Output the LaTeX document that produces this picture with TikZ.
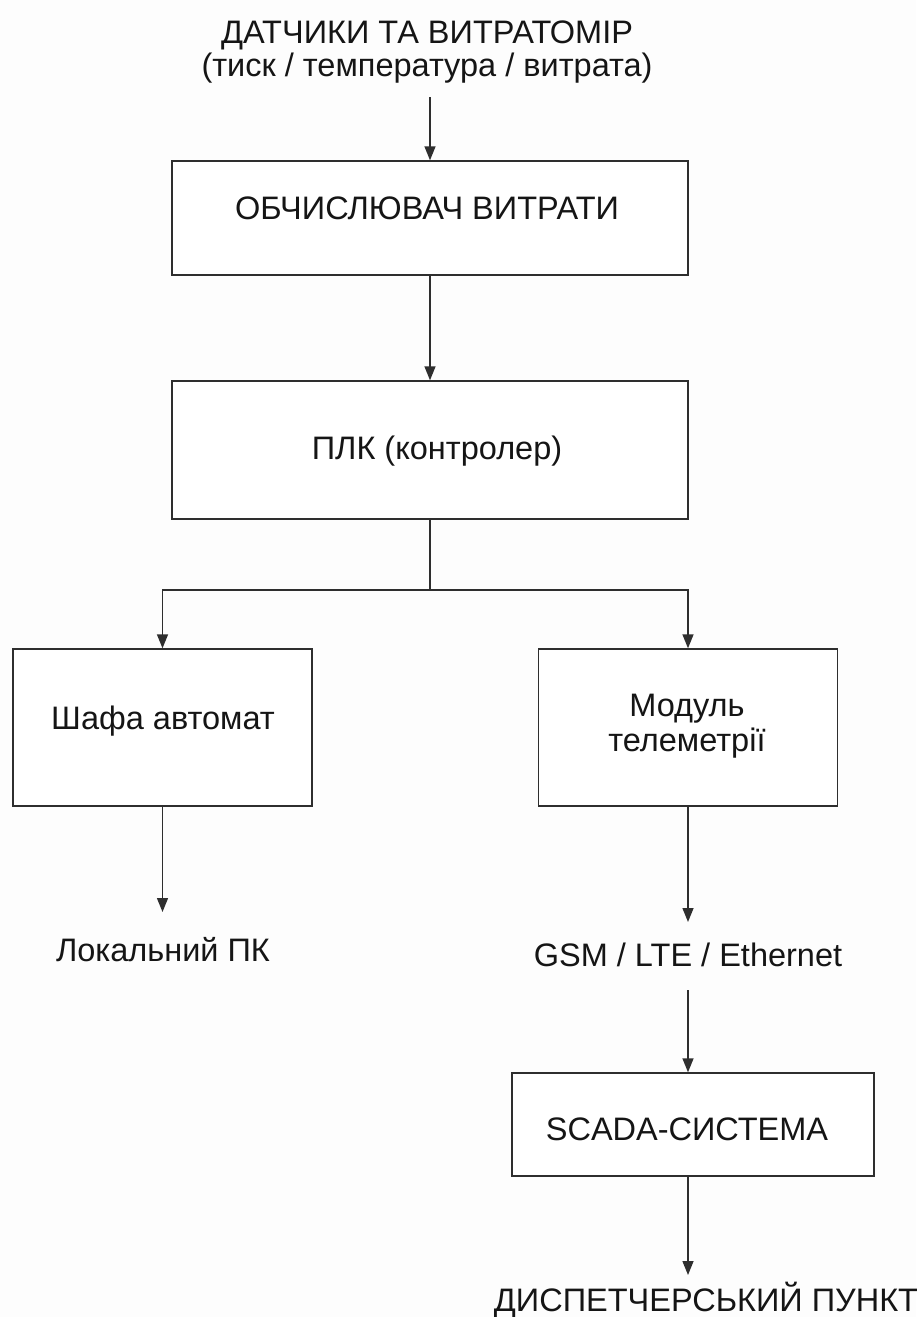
\documentclass[tikz,border=0pt]{standalone}
\usepackage{fontspec}
\setmainfont{Liberation Sans}
\usetikzlibrary{arrows.meta}
\definecolor{linec}{HTML}{2E2E2E}
\definecolor{textc}{HTML}{151515}
\definecolor{bgc}{HTML}{FDFDFD}
\begin{document}
\begin{tikzpicture}[x=1pt,y=-1pt,
  box/.style={draw=linec, line width=1.4pt, inner sep=0pt, fill=white},
  lbl/.style={anchor=base, inner sep=0pt, text=textc, font=\fontsize{32.5}{34}\selectfont},
  ln/.style={draw=linec, line width=1.4pt},
  arr/.style={ln, -{Triangle[length=14pt,width=11pt]}}]
\fill[bgc] (0,0) rectangle (916,1317);
\useasboundingbox (0,0) rectangle (916,1317);
% boxes
\node[box, minimum width=516pt, minimum height=114pt] (calc) at (430,218) {};
\node[box, minimum width=516pt, minimum height=138pt] (plc) at (430,450) {};
\node[box, minimum width=299pt, minimum height=157pt] (cab) at (162.5,727.5) {};
\node[box, minimum width=299pt, minimum height=157pt] (tel) at (688,727.5) {};
\node[box, minimum width=362pt, minimum height=103pt] (scada) at (693,1124.5) {};
% texts
\node[lbl] (t1) at (427,43) {ДАТЧИКИ ТА ВИТРАТОМІР};
\node[lbl] (t2) at (427,76) {(тиск / температура / витрата)};
\node[lbl] (calct) at (427,219) {ОБЧИСЛЮВАЧ ВИТРАТИ};
\node[lbl] (plct) at (437,459) {ПЛК (контролер)};
\node[lbl] (cabt) at (163,729) {Шафа автомат};
\node[lbl] (telt1) at (687,716) {Модуль};
\node[lbl] (telt2) at (687,751) {телеметрії};
\node[lbl] (pc) at (163,961) {Локальний ПК};
\node[lbl] (gsm) at (688,966) {GSM / LTE / Ethernet};
\node[lbl] (scadat) at (687,1140) {SCADA-СИСТЕМА};
\node[lbl] (disp) at (706,1311) {ДИСПЕТЧЕРСЬКИЙ ПУНКТ};
% connectors
\coordinate (in0) at (430,97);
\draw[arr] (in0) -- (calc.north);
\draw[arr] (calc.south) -- (plc.north);
\coordinate (split) at (430,590);
\draw[ln] (plc.south) -- (split);
\draw[arr] (split) -| (cab.north);
\draw[arr] (split) -| (tel.north);
\coordinate (pcin) at (162.5,912);
\draw[arr] (cab.south) -- (pcin);
\coordinate (gsmin) at (688,922);
\draw[arr] (tel.south) -- (gsmin);
\coordinate (gsmout) at (688,990);
\draw[arr] (gsmout) -- (gsmout |- scada.north);
\coordinate (dispin) at (688,1275);
\draw[arr] (scada.south -| dispin) -- (dispin);
\end{tikzpicture}
\end{document}
